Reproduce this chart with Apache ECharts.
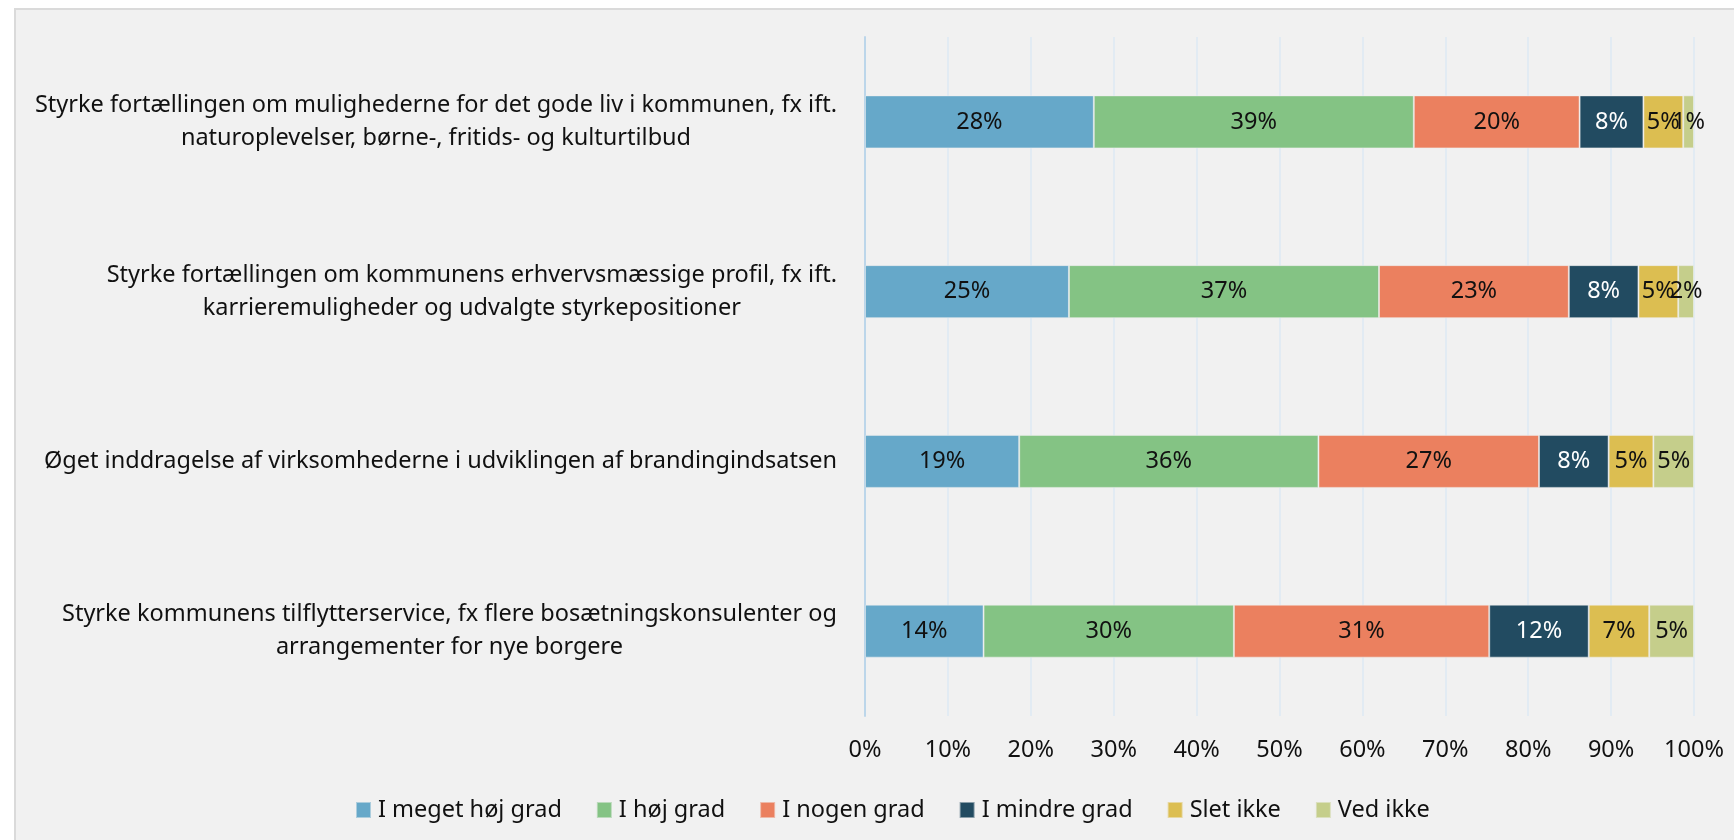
<!DOCTYPE html>
<html>
<head>
<meta charset="utf-8">
<script src="https://cdn.jsdelivr.net/npm/echarts@6/dist/echarts.min.js"></script>
<style>
    body { margin: 0; background: #fff; overflow: hidden; }
    #ramme { position: absolute; left: 14px; top: 8px; width: 1800px; height: 900px;
             border: 2px solid #dadada; background: #f1f1f1; }
    #branding-chart { position: absolute; left: 0; top: 0; width: 1734px; height: 840px; }
</style>
</head>
<body>
<div id="ramme"></div>
<div id="branding-chart"></div>
<script>
// udsagn (kategorier)
var udsagn = [
    'Styrke fortællingen om mulighederne for det gode liv i kommunen, fx ift.\nnaturoplevelser, børne-, fritids- og kulturtilbud',
    'Styrke fortællingen om kommunens erhvervsmæssige profil, fx ift.\nkarrieremuligheder og udvalgte styrkepositioner',
    'Øget inddragelse af virksomhederne i udviklingen af brandingindsatsen',
    'Styrke kommunens tilflytterservice, fx flere bosætningskonsulenter og\narrangementer for nye borgere'
];

var svarNavne = ['I meget høj grad', 'I høj grad', 'I nogen grad', 'I mindre grad', 'Slet ikke', 'Ved ikke'];
var farver = ['#66a8c9', '#84c384', '#eb805f', '#224b61', '#dcbe51', '#c5ce8b'];

// andele i procent, en række pr. svarkategori
var meget_hoej = [27.6, 24.6, 18.6, 14.3];
var hoej       = [38.6, 37.4, 36.1, 30.2];
var nogen      = [20.0, 22.9, 26.6, 30.8];
var mindre     = [7.7, 8.4, 8.4, 12.0];
var slet_ikke  = [4.8, 4.8, 5.4, 7.3];
var ved_ikke   = [1.3, 1.9, 4.9, 5.4];

var xTicks = [0, 10, 20, 30, 40, 50, 60, 70, 80, 90, 100];

function initBrandingChart(){
    var e = echarts.init(document.getElementById("branding-chart"));
    var alle = [meget_hoej, hoej, nogen, mindre, slet_ikke, ved_ikke];
    var font = 'Noto Sans';
    var fs = 23.5;

    var series = [];
    for (var i = 0; i < alle.length; i++) {
        series.push({
            name: svarNavne[i],
            type: 'bar',
            stack: 'total',
            barWidth: 53,
            data: alle[i],
            itemStyle: {
                color: farver[i],
                borderColor: 'rgba(241,241,241,0.5)',
                borderWidth: 1
            },
            label: {
                show: true,
                position: 'inside',
                fontFamily: font,
                fontSize: fs,
                color: i == 3 ? '#ffffff' : '#111111',
                formatter: function(p){ return Math.round(p.value) + '%'; }
            }
        });
    }

    option = {
        backgroundColor: 'transparent',
        animation: false,
        legend: {
            data: svarNavne,
            left: 350,
            top: 793,
            icon: 'rect',
            itemWidth: 15,
            itemHeight: 16,
            itemGap: 34,
            textStyle: { fontFamily: font, fontSize: fs, color: '#111', padding: [0, 0, 0, 2] }
        },
        grid: {
            left: 865,
            right: 40,
            top: 37,
            bottom: 124
        },
        xAxis: {
            type: 'value',
            min: xTicks[0],
            max: xTicks[xTicks.length - 1],
            interval: 10,
            axisLine: { show: false },
            axisTick: { show: false },
            splitLine: { lineStyle: { color: '#dce9f3', width: 1.5 } },
            axisLabel: {
                fontFamily: font, fontSize: fs, color: '#111', margin: 22,
                formatter: '{value}%'
            }
        },
        yAxis: {
            type: 'category',
            inverse: true,
            data: udsagn,
            axisLine: { show: true, lineStyle: { color: '#bcd6ea', width: 2 } },
            axisTick: { show: false },
            axisLabel: {
                margin: 28,
                fontFamily: font,
                fontSize: fs,
                color: '#111',
                lineHeight: 33,
                formatter: function(v){
                    return v.split('\n').map(function(l){ return '{c|' + l + '}'; }).join('\n');
                },
                rich: {
                    c: { align: 'center', fontFamily: font, fontSize: fs, color: '#111', lineHeight: 33 }
                }
            }
        },
        series: series
    };
    e.setOption(option);
}

initBrandingChart();
</script>
</body>
</html>
